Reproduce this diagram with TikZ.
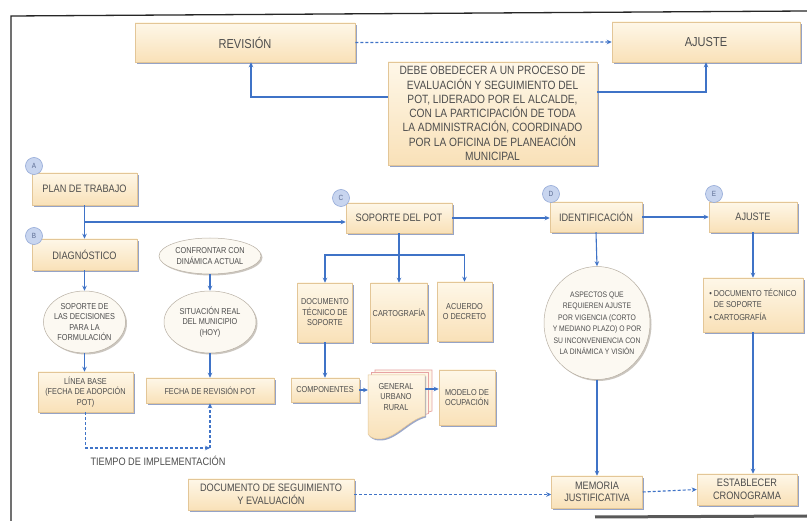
\documentclass[tikz,border=0pt]{standalone}
\usepackage{fontspec}
\setmainfont{Liberation Sans}[FakeStretch=0.85]
\usetikzlibrary{arrows.meta,shadows,shapes.geometric,calc}
\definecolor{boxtop}{HTML}{FEF7E8}
\definecolor{boxbot}{HTML}{F9E1B8}
\definecolor{boxedge}{HTML}{E3C697}
\definecolor{shadowc}{HTML}{8393BD}
\definecolor{txt}{HTML}{4D4D4D}
\definecolor{ovalfill}{HTML}{FCF9F2}
\definecolor{ovaledge}{HTML}{B8B0A4}
\definecolor{ovshadow}{HTML}{B5AEA4}
\definecolor{circfill}{HTML}{C8D5EF}
\definecolor{circedge}{HTML}{93A9D8}
\definecolor{circtext}{HTML}{5A6A90}
\definecolor{linkblue}{HTML}{3F73C7}
\definecolor{pinkedge}{HTML}{E7A3A3}
\newcommand{\myfbig}{\fontsize{13}{15}\selectfont}
\newcommand{\myfmed}{\fontsize{10.8}{12.5}\selectfont}
\newcommand{\myftb}{\fontsize{12}{14.3}\selectfont}
\newcommand{\myfsm}{\fontsize{8.6}{10.5}\selectfont}
\newcommand{\myfasp}{\fontsize{8}{11.5}\selectfont}
\newcommand{\myfcirc}{\fontsize{7.5}{8}\selectfont}
\tikzset{
  conn/.style={draw=linkblue, line width=1.1pt, -{Stealth[length=5pt,width=4.5pt]}},
  plainconn/.style={draw=linkblue, line width=1.1pt},
  dconn/.style={conn, dash pattern=on 3pt off 2pt},
  pbox/.style={rectangle, top color=boxtop, bottom color=boxbot, draw=boxedge, line width=0.5pt,
    drop shadow={shadow xshift=1.5pt, shadow yshift=-2pt, fill=shadowc, opacity=0.85},
    text=txt, align=center, inner sep=1pt},
  oval/.style={ellipse, fill=ovalfill, draw=ovaledge, line width=0.5pt,
    drop shadow={shadow xshift=1.5pt, shadow yshift=-1.5pt, fill=ovshadow, opacity=0.7},
    inner sep=0pt},
  ovtext/.style={text=txt, align=center, inner sep=0pt},
  badge/.style={circle, minimum size=17pt, inner sep=0pt, fill=circfill, draw=circedge, line width=0.6pt,
    font=\myfcirc, text=circtext},
  docback/.style={draw=pinkedge, line width=0.7pt, fill=boxtop},
  docfront/.style={draw=boxedge, line width=0.5pt, top color=boxtop, bottom color=boxbot}
}
\begin{document}
\begin{tikzpicture}[x=1pt,y=-1pt]
\useasboundingbox (0,0) rectangle (807,521);
\fill[white] (0,0) rectangle (807,521);
% frame
\draw[line width=1.3pt, black!85] (11,521) -- (11,16) -- (807,11);
\draw[line width=3pt, black!65] (595,517) -- (807,516);

% top part
\node[pbox, font=\myfbig, minimum width=220pt, minimum height=39pt] (rev) at (245,42.5) {REVISIÓN};
\node[pbox, font=\myfbig, minimum width=188pt, minimum height=40pt] (ajtop) at (706,42) {AJUSTE};
\node[pbox, font=\myftb, minimum width=209pt, minimum height=103pt, inner sep=0pt] (tb) at (492.5,113.5)
  {DEBE OBEDECER A UN PROCESO DE\\EVALUACIÓN Y SEGUIMIENTO DEL\\POT, LIDERADO POR EL ALCALDE,\\CON LA PARTICIPACIÓN DE TODA\\LA ADMINISTRACIÓN, COORDINADO\\POR LA OFICINA DE PLANEACIÓN\\MUNICIPAL};
\coordinate (k1) at (251,97);
\coordinate (k2) at (706,92);
\draw[dconn] (rev.east) -- (ajtop.west);
\draw[conn] (tb.west |- k1) -- (k1) -- (k1 |- rev.south);
\draw[conn] (tb.east |- k2) -- (k2) -- (k2 |- ajtop.south);

% left column
\node[pbox, font=\myfmed, minimum width=105pt, minimum height=32pt] (plan) at (84.5,189) {PLAN DE TRABAJO};
\node[pbox, font=\myfmed, minimum width=105pt, minimum height=31pt] (diag) at (84.5,254.5) {DIAGNÓSTICO};
\node[oval, minimum width=82pt, minimum height=62pt] (e1) at (84.5,322) {};
\node[ovtext, font=\myfsm] at (e1) {SOPORTE DE\\LAS DECISIONES\\PARA LA\\FORMULACIÓN};
\node[oval, minimum width=102pt, minimum height=36pt] (e2) at (210,256) {};
\node[ovtext, font=\myfsm] at (e2) {CONFRONTAR CON\\DINÁMICA ACTUAL};
\node[oval, minimum width=92pt, minimum height=62pt] (e3) at (210,322) {};
\node[ovtext, font=\myfsm] at (e3) {SITUACIÓN REAL\\DEL MUNICIPIO\\(HOY)};
\node[pbox, font=\myfsm, minimum width=95pt, minimum height=40pt] (lb) at (85.5,392) {LÍNEA BASE\\(FECHA DE ADOPCIÓN\\POT)};
\node[pbox, font=\myfsm, minimum width=128pt, minimum height=25pt] (fecha) at (210,390.5) {FECHA DE REVISIÓN POT};
\node[text=txt, font=\myfmed] (tiempo) at (158,461) {TIEMPO DE IMPLEMENTACIÓN};
\node[pbox, font=\myfmed, minimum width=166pt, minimum height=31pt] (docseg) at (271,494.5) {DOCUMENTO DE SEGUIMIENTO\\Y EVALUACIÓN};

% middle column
\node[pbox, font=\myfmed, minimum width=106pt, minimum height=30pt] (sop) at (399,218) {SOPORTE DEL POT};
\node[pbox, font=\myfsm, minimum width=55pt, minimum height=59pt] (doct) at (325,312.5) {DOCUMENTO\\TÉCNICO DE\\SOPORTE};
\node[pbox, font=\myfsm, minimum width=57pt, minimum height=59pt] (carto) at (399,312.5) {CARTOGRAFÍA};
\node[pbox, font=\myfsm, minimum width=55pt, minimum height=59pt] (acu) at (464.5,311.5) {ACUERDO\\O DECRETO};
\node[pbox, font=\myfsm, minimum width=68pt, minimum height=24pt] (comp) at (325,390) {COMPONENTES};
\node[pbox, font=\myfsm, minimum width=56pt, minimum height=55pt] (modelo) at (467,397.5) {MODELO DE\\OCUPACIÓN};
% stacked document shape
\path[docback, shift={(7,-5)}] (368,375) -- (425,375) -- (425,416) .. controls (408,420) and (395,440) .. (378,439) .. controls (373,439) and (369,436) .. (368,434) -- cycle;
\path[docback, shift={(3.5,-2.5)}] (368,375) -- (425,375) -- (425,416) .. controls (408,420) and (395,440) .. (378,439) .. controls (373,439) and (369,436) .. (368,434) -- cycle;
\path[docfront, drop shadow={shadow xshift=1pt, shadow yshift=-1.5pt, fill=shadowc, opacity=0.8}] (368,375) -- (425,375) -- (425,416) .. controls (408,420) and (395,440) .. (378,439) .. controls (373,439) and (369,436) .. (368,434) -- cycle;
\node[text=txt, font=\myfsm, align=center] (gen) at (396,397) {GENERAL\\URBANO\\RURAL};

% right part
\node[pbox, font=\myfmed, minimum width=92pt, minimum height=30pt] (ident) at (596,217) {IDENTIFICACIÓN};
\node[pbox, font=\myfmed, minimum width=88pt, minimum height=30pt] (aje) at (753,217) {AJUSTE};
\node[oval, minimum width=106pt, minimum height=113pt] (asp) at (597,323) {};
\node[ovtext, font=\myfasp] at (asp) {ASPECTOS QUE\\REQUIEREN AJUSTE\\POR VIGENCIA (CORTO\\Y MEDIANO PLAZO) O POR\\SU INCONVENIENCIA CON\\LA DINÁMICA Y VISIÓN};
\node[pbox, font=\myfsm, minimum width=100pt, minimum height=54pt, align=left] (bul) at (753,305)
  {\textbullet\ DOCUMENTO TÉCNICO\\\hphantom{\textbullet\ }DE SOPORTE\\[3pt]\textbullet\ CARTOGRAFÍA};
\node[pbox, font=\myfmed, minimum width=91pt, minimum height=32pt] (mem) at (597,492) {MEMORIA\\JUSTIFICATIVA};
\node[pbox, font=\myfmed, minimum width=100pt, minimum height=31pt] (est) at (747,489.5) {ESTABLECER\\CRONOGRAMA};

% connectors left
\coordinate (j1) at (84.5,222);
\coordinate (k3) at (210,448);
\draw[conn] (plan.south) -- (diag.north);
\draw[conn] (j1) -- (j1 -| sop.west);
\draw[conn] (diag.south) -- (e1.north);
\draw[conn] (e1.south) -- (e1.south |- lb.north);
\draw[conn] (e2.south) -- (e3.north);
\draw[conn] (e3.south) -- (fecha.north);
\draw[dconn] (lb.south) |- (k3);
\draw[dconn] (k3) -- (fecha.south);

% connectors middle
\coordinate (genw) at (368,390);
\coordinate (gene) at (425,389);
\coordinate (k4) at (399,255);
\draw[conn] (sop.south) -- (carto.north);
\draw[conn] (k4) -| (doct.north);
\draw[conn] (k4) -| (acu.north);
\draw[conn] (doct.south) -- (comp.north);
\draw[conn] (comp.east) -- (genw);
\draw[conn] (gene) -- (gene -| modelo.west);

% connectors right
\draw[conn] (sop.east) -- (sop.east -| ident.west);
\draw[conn] (ident.east) -- (aje.west);
\draw[conn] (ident.south) -- (asp.north);
\draw[conn] (asp.south) -- (mem.north);
\draw[conn] (aje.south) -- (bul.north);
\draw[conn] (bul.south) -- (bul.south |- est.north);
\draw[dconn] (docseg.east) -- (docseg.east -| mem.west);
\draw[dconn] (mem.east) -- (est.west);

% badges
\node[badge] (ba) at (34,166) {A};
\node[badge] (bb) at (34,236) {B};
\node[badge] (bc) at (341,198) {C};
\node[badge] (bd) at (551,194) {D};
\node[badge] (be) at (714,194) {E};
\end{tikzpicture}
\end{document}
